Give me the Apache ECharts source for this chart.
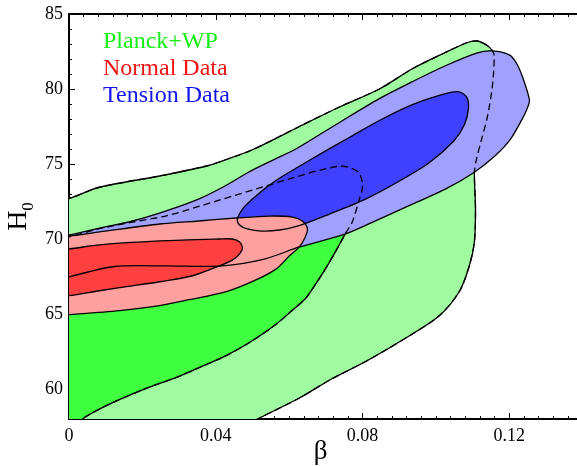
<!DOCTYPE html>
<html>
<head>
<meta charset="utf-8">
<script src="https://cdn.jsdelivr.net/npm/echarts@6/dist/echarts.min.js"></script>
<style>
  html, body { margin: 0; padding: 0; background: #fff; }
  #main { width: 577px; height: 466px; }
</style>
</head>
<body>
<div id="main"></div>
<script>
// contour outlines [beta, H0] (points just past the axes close the shapes)
var planck2 = [[-0.004,72.6],[0,72.7],[0.0083,73.45],[0.0247,74.2],[0.0372,74.85],[0.0429,75.3],[0.05,75.95],
  [0.0628,77.5],[0.0737,78.8],[0.0846,80.0],[0.0936,81.35],[0.1023,82.4],[0.1086,83.1],[0.1113,83.2],[0.114,82.9],
  [0.1154,82.55],[0.1159,82.2],[0.1154,80.2],[0.114,78.1],[0.1124,76.6],[0.111,75.25],[0.1105,74.45],[0.1108,72.0],
  [0.1105,69.8],[0.1091,68.2],[0.1064,66.5],[0.101,64.9],[0.0928,63.55],[0.081,61.85],[0.0718,60.7],[0.0628,59.4],
  [0.0514,58.0],[0.047,57.4],[-0.004,57.4]];
var planck1 = [[-0.004,70.1],[0,70.14],[0.008,70.67],[0.0173,71.13],[0.0263,71.53],[0.0356,72.19],[0.0446,72.86],[0.0535,73.52],
  [0.0625,74.18],[0.0683,74.58],[0.0745,74.85],[0.0789,74.45],[0.08,73.52],[0.0789,72.46],[0.0772,71.13],[0.0753,70.34],
  [0.0726,69.14],[0.0699,68.01],[0.0669,66.88],[0.0644,66.02],[0.0601,65.09],[0.056,64.23],[0.0492,63.1],[0.0424,62.17],
  [0.0356,61.44],[0.0293,60.78],[0.0219,60.12],[0.014,59.32],[0.0083,58.66],[0.0037,58.0],[0.002,57.4],[-0.004,57.4]];
var normal2 = [[-0.004,70.2],[0,70.2],[0.0083,70.47],[0.0247,71.0],[0.0353,71.2],[0.0456,71.4],[0.0546,71.53],[0.0609,71.46],
  [0.0636,71.2],[0.065,70.67],[0.0644,70.14],[0.0628,69.47],[0.0601,68.88],[0.0565,68.01],[0.0505,67.22],[0.0429,66.49],
  [0.0328,65.96],[0.0247,65.56],[0.0138,65.23],[0,64.96],[-0.004,64.9]];
var normal1 = [[-0.004,69.3],[0,69.34],[0.0083,69.61],[0.0247,69.87],[0.041,70.0],[0.0446,70.0],[0.0465,69.8],[0.0473,69.41],
  [0.0465,69.01],[0.0446,68.61],[0.041,68.21],[0.0337,67.55],[0.0247,67.15],[0.0157,66.82],[0.0083,66.55],[0,66.22],[-0.004,66.2]];
var tension2 = [[-0.004,70.2],[0,70.27],[0.0083,70.73],[0.0173,71.2],[0.0263,71.86],[0.0353,72.66],[0.0424,73.52],[0.0489,74.45],
  [0.056,75.31],[0.0617,75.98],[0.0737,77.77],[0.0846,79.36],[0.0936,80.49],[0.1026,81.55],[0.1113,82.41],[0.1154,82.54],
  [0.12,82.28],[0.1219,81.75],[0.1236,80.82],[0.1255,79.29],[0.1252,78.9],[0.1239,78.17],[0.1203,76.64],[0.116,75.51],
  [0.1105,74.45],[0.1026,73.32],[0.0936,72.33],[0.0846,71.33],[0.0754,70.34],[0.0628,69.47],[0.0535,68.68],[0.0418,68.21],
  [0.0263,68.21],[0.0119,68.15],[0,67.48],[-0.004,67.3]];
var tension1 = [[0.0459,71.33],[0.0475,72.06],[0.05,72.66],[0.0535,73.39],[0.0582,74.18],[0.0628,74.85],[0.0683,75.64],
  [0.0764,76.77],[0.0846,77.9],[0.0936,78.96],[0.1026,79.69],[0.1061,79.82],[0.1083,79.49],[0.1089,78.76],[0.1078,77.63],
  [0.105,76.57],[0.098,75.05],[0.089,73.72],[0.0808,72.66],[0.071,71.66],[0.0625,70.87],[0.0574,70.6],[0.0525,70.53],
  [0.0486,70.67],[0.0465,70.93]];

var legendNames = ['Planck+WP', 'Normal Data', 'Tension Data'];
var legendColors = ['#14f014', '#f01414', '#1414f0'];
var xTicks = [0, 0.04, 0.08, 0.12];
var yTicks = [60, 65, 70, 75, 80, 85];
var yMinorTicks = [58, 59, 60, 61, 62, 63, 64, 65, 66, 67, 68, 69, 70, 71, 72, 73, 74, 75, 76, 77, 78, 79, 80, 81, 82, 83, 84, 85];

var myChart = echarts.init(document.getElementById('main'));

function contour(pts, fill, stroke, dash, z) {
  return {
    type: 'custom',
    silent: true,
    clip: true,
    z: z,
    data: [[0, 60]],
    renderItem: function (params, api) {
      var points = pts.map(function (p) { return api.coord(p); });
      return {
        type: 'polygon',
        shape: { points: points, smooth: 0.3 },
        style: {
          fill: fill,
          stroke: stroke,
          lineWidth: 1.3,
          lineDash: dash
        }
      };
    }
  };
}

var serif = 'Liberation Serif, Times New Roman, serif';
var axisLine = { show: true, lineStyle: { color: '#000', width: 2 } };

var option = {
  animation: false,
  grid: { left: 69, top: 14, width: 587, height: 405, outerBoundsMode: 'none', containLabel: false },
  xAxis: [{
    type: 'value', min: 0, max: 0.16, interval: 0.04,
    axisLine: axisLine,
    axisTick: { inside: true, length: 6, lineStyle: { color: '#000', width: 1 } },
    minorTick: { show: true, splitNumber: 10, length: 3, lineStyle: { color: '#000', width: 1 } },
    splitLine: { show: false },
    axisLabel: {
      color: '#000', fontFamily: serif, fontSize: 18, margin: 8,
      formatter: function (v) { return xTicks.indexOf(Math.round(v * 100) / 100) >= 0 ? String(Math.round(v * 100) / 100) : ''; }
    },
    // plot runs past the right edge, so pull the name back to the visible middle
    name: 'β', nameLocation: 'middle', nameGap: 19, nameMoveOverlap: false,
    nameTextStyle: { color: '#000', fontFamily: serif, fontSize: 27, verticalAlign: 'top', padding: [0, 84, 0, 0] }
  }, {
    type: 'value', position: 'top', min: 0, max: 0.16, interval: 0.04,
    axisLine: axisLine,
    axisTick: { inside: true, length: 6, lineStyle: { color: '#000', width: 1 } },
    minorTick: { show: true, splitNumber: 10, length: 3, lineStyle: { color: '#000', width: 1 } },
    splitLine: { show: false },
    axisLabel: { show: false }
  }],
  yAxis: [{
    type: 'value', min: 58, max: 85,
    axisLine: axisLine,
    axisTick: { inside: true, length: 6, customValues: yTicks, lineStyle: { color: '#000', width: 1 } },
    splitLine: { show: false },
    axisLabel: { color: '#000', fontFamily: serif, fontSize: 18, margin: 6, customValues: yTicks },
    name: '{a|H}{b|0}', nameLocation: 'middle', nameGap: 32, nameRotate: 90, nameMoveOverlap: false,
    nameTextStyle: {
      rich: {
        a: { fontFamily: serif, fontSize: 28, color: '#000', lineHeight: 36, verticalAlign: 'middle' },
        b: { fontFamily: serif, fontSize: 17, color: '#000', lineHeight: 36, verticalAlign: 'bottom' }
      }
    }
  }, {
    type: 'value', min: 58, max: 85, position: 'left',
    axisLine: { show: false },
    axisTick: { inside: true, length: 3, customValues: yMinorTicks, lineStyle: { color: '#000', width: 1 } },
    splitLine: { show: false },
    axisLabel: { show: false }
  }],
  graphic: legendNames.map(function (t, i) {
    return {
      type: 'text', left: 103, top: 30 + i * 27, z: 100,
      style: { text: t, fill: legendColors[i], font: '24px ' + serif }
    };
  }),
  series: [
    contour(planck2, '#a0faa0', '#000', null, 1),
    contour(planck1, '#40ff40', '#000', null, 2),
    contour(tension2, '#a0a0ff', 'none', null, 3),
    contour(tension1, '#4040ff', 'none', null, 4),
    contour(normal2, '#ffa0a0', 'none', null, 5),
    contour(normal1, '#ff4040', 'none', null, 6),
    contour(planck2, 'none', '#000', [7, 4], 7),
    contour(planck1, 'none', '#000', [7, 4], 8),
    contour(tension2, 'none', '#000', null, 9),
    contour(tension1, 'none', '#000', null, 10),
    contour(normal2, 'none', '#000', null, 11),
    contour(normal1, 'none', '#000', null, 12)
  ]
};

myChart.setOption(option);
</script>
</body>
</html>
